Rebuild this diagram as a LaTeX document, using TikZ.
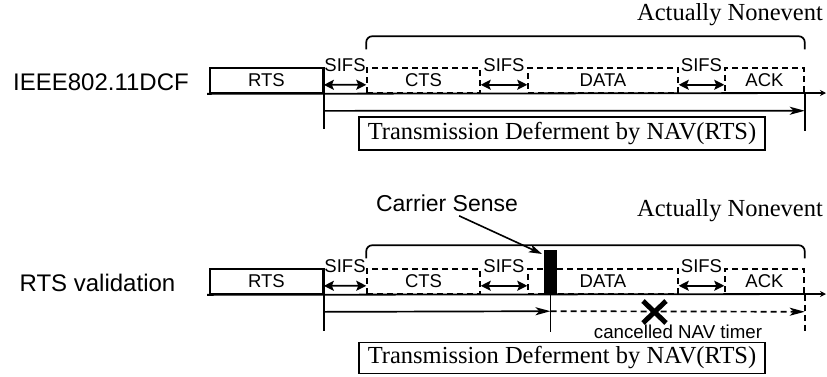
\documentclass[tikz,border=0pt]{standalone}
\usepackage{fontspec}
\setmainfont{Liberation Sans}
\newfontfamily\timesfont{Liberation Serif}
\usetikzlibrary{arrows.meta}

\tikzset{
    rowlbl/.style={font=\fontsize{24}{28}\selectfont, inner sep=0pt},
    pktbox/.style={draw, line width=1.7pt, minimum height=25pt, inner sep=0pt, font=\fontsize{18.5}{21}\selectfont},
    dashbox/.style={pktbox, line width=1.5pt, dash pattern=on 6pt off 4pt},
    sifsarrow/.style={line width=1.7pt, {Stealth[length=10pt,width=10pt,inset=2pt]}-{Stealth[length=10pt,width=10pt,inset=2pt]}},
    sifslbl/.style={font=\fontsize{18.5}{21}\selectfont, inner sep=0pt},
    timeaxis/.style={line width=1.8pt, -{Stealth[length=6pt,width=6pt]}},
    navarrow/.style={line width=1.7pt, -{Stealth[length=15pt,width=8pt,inset=4pt]}},
    navbox/.style={draw, line width=1.6pt, minimum width=406pt, inner sep=0pt, font=\timesfont\fontsize{24.5}{28}\selectfont},
    nonevent/.style={inner sep=0pt, font=\timesfont\fontsize{24.5}{28}\selectfont},
    tick/.style={line width=1.7pt},
    dashes/.style={dash pattern=on 6pt off 4pt},
}

\begin{document}
\begin{tikzpicture}[x=1pt,y=-1pt]
    \useasboundingbox (0,0) rectangle (827,376);

    % Both rows: frames, SIFS gaps, brace, NAV box
    \foreach \r/\off/\name/\lx/\brh/\ny/\by/\bh in {a/0/IEEE802.11DCF/101/18/15/133.5/33, b/201/RTS validation/97.5/10/211/358/31} {
        \node[rowlbl] (lbl\r) at (\lx, 82+\off) {\name};
        \node[pktbox, minimum width=113pt] (rts\r) at (266.5, 80.5+\off) {RTS};
        \node[dashbox, minimum width=113pt] (cts\r) at (423.5, 80.5+\off) {CTS};
        \node[dashbox, minimum width=150pt] (data\r) at (603, 80.5+\off) {DATA};
        \node[dashbox, minimum width=79pt] (ack\r) at (764.5, 80.5+\off) {ACK};
        \draw[sifsarrow] ([yshift=9pt]rts\r.south east) -- node[sifslbl, yshift=20pt] {SIFS} ([yshift=9pt]cts\r.south west);
        \draw[sifsarrow] ([yshift=9pt]cts\r.south east) -- node[sifslbl, yshift=20pt] {SIFS} ([yshift=9pt]data\r.south west);
        \draw[sifsarrow] ([yshift=9pt]data\r.south east) -- node[sifslbl, yshift=20pt] {SIFS} ([yshift=9pt]ack\r.south west);
        \coordinate (end\r) at (826, 93+\off);
        \draw[timeaxis] ([xshift=-2pt]rts\r.south west) -- (end\r);
        \draw[tick, rounded corners=6pt] ([yshift=\brh]cts\r.north west) -- ++(0,-13) -| ([yshift=\brh]ack\r.north east);
        \node[nonevent] (ne\r) at (730, \ny) {Actually Nonevent};
        \node[navbox, minimum height=\bh] (nav\r) at (562, \by) {Transmission Deferment by NAV(RTS)};
    }

    % IEEE802.11DCF: full NAV
    \draw[tick] (rtsa.north east) -- ++(0,62);
    \draw[tick] (acka.south east) -- ++(0,37);
    \draw[navarrow] ([yshift=-17pt]rtsa.south east) -- ([yshift=-17pt]acka.south east);

    % RTS validation: carrier sense cancels the NAV
    \node[fill=black, minimum width=13pt, minimum height=44pt, inner sep=0pt] (cs) at (550.5, 272) {};
    \node[rowlbl, font=\fontsize{23}{27}\selectfont] (cslbl) at (447, 203) {Carrier Sense};
    \draw[line width=1.6pt, -{Stealth[length=13pt,width=8pt,inset=3pt]}, shorten <=10pt, shorten >=2pt] ([xshift=3pt]cslbl.south) -- ([yshift=-5pt]cs.north west);
    \draw[tick] (rtsb.north east) -- ++(0,63);
    \draw[tick] (cs.south) -- ++(0,38);
    \draw[tick, dashes] (ackb.south east) -- ++(0,39);
    \draw[navarrow] ([yshift=-17pt]rtsb.south east) -- ([yshift=-17pt]cs.south);
    \draw[navarrow, dashes] ([yshift=-17pt]cs.south) -- ([yshift=-17pt]ackb.south east);
    \draw[line width=5pt] (643,301) -- (666,323) (643,323) -- (666,301);
    \node[font=\fontsize{18.7}{22}\selectfont, inner sep=0pt] (cancel) at (678, 332) {cancelled NAV timer};

\end{tikzpicture}
\end{document}
